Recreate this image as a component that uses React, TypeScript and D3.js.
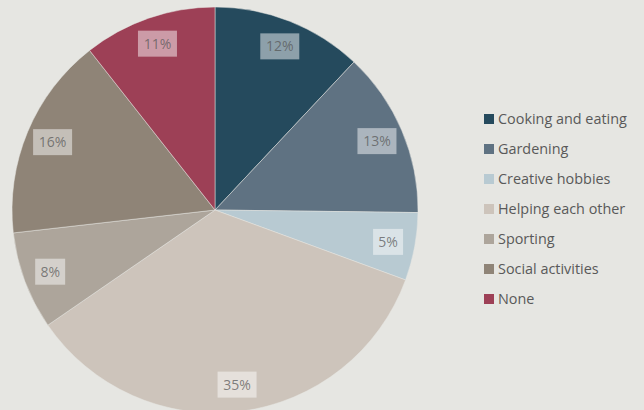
import React from "react";
import * as d3 from "d3";

const categories = ["Cooking and eating", "Gardening", "Creative hobbies", "Helping each other", "Sporting", "Social activities", "None"];
const values = [12.0, 13.2, 5.4, 34.8, 7.8, 16.2, 10.6];
const labels = ["12%", "13%", "5%", "35%", "8%", "16%", "11%"];
const colors = ["#254a5d", "#5f7282", "#b8cad2", "#cdc4bb", "#ada59b", "#8f8477", "#9d4056"];

const W = 644, H = 410;
const cx = 215, cy = 210, R = 203, LR = 176;

export default function App() {
  const pie = d3.pie<number>().sort(null).value((d) => d)(values);
  const arc = d3.arc<d3.PieArcDatum<number>>().innerRadius(0).outerRadius(R);
  const labelArc = d3.arc<d3.PieArcDatum<number>>().innerRadius(LR).outerRadius(LR);
  const font = "'Open Sans', 'Noto Sans', sans-serif";
  return (
    <svg width={W} height={H} style={{ position: "absolute", left: 0, top: 0, background: "#e6e6e2" }}>
      <rect width={W} height={H} fill="#e6e6e2" />
      <g transform={`translate(${cx},${cy})`}>
        {pie.map((p, i) => (
          <path key={i} d={arc(p) || ""} fill={colors[i]} stroke="#e6e6e2" strokeWidth={0.5} />
        ))}
        {pie.map((p, i) => {
          const [x, y] = labelArc.centroid(p);
          const txt = labels[i];
          const bw = txt.length * 9 + 12;
          return (
            <g key={"l" + i} transform={`translate(${x},${y})`}>
              <rect x={-bw / 2} y={-13} width={bw} height={26} fill="#ffffff" fillOpacity={0.48} />
              <text textAnchor="middle" dy="0.36em" fontFamily={font} fontSize={14} fill="#555555" fillOpacity={0.72}>{txt}</text>
            </g>
          );
        })}
      </g>
      <g transform="translate(484,119)">
        {categories.map((c, i) => (
          <g key={c} transform={`translate(0,${i * 30})`}>
            <rect x={0} y={-5} width={10} height={10} fill={colors[i]} />
            <text x={14} dy="0.35em" fontFamily={font} fontSize={14.4} fill="#595959">{c}</text>
          </g>
        ))}
      </g>
    </svg>
  );
}
